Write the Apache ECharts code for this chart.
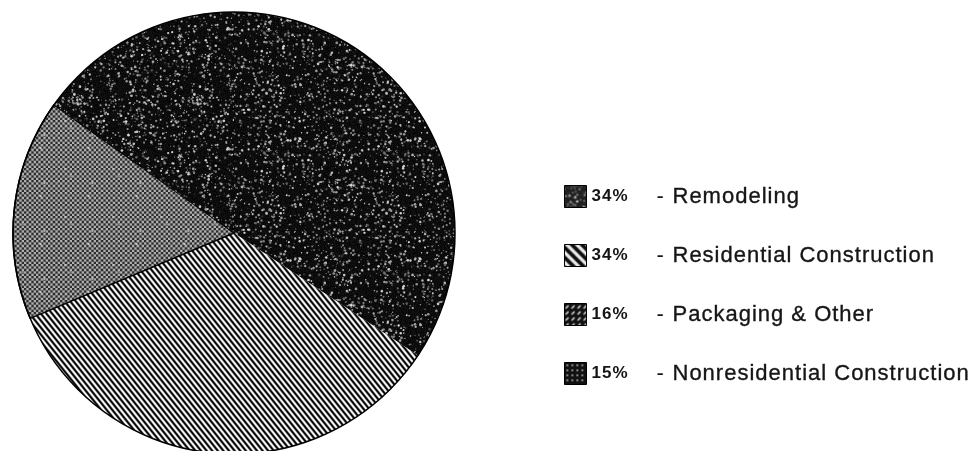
<!DOCTYPE html>
<html>
<head>
<meta charset="utf-8">
<script src="https://cdn.jsdelivr.net/npm/echarts@6/dist/echarts.min.js"></script>
<style>
  html, body { margin: 0; padding: 0; background: #ffffff; }
  #chart { width: 977px; height: 451px; }
</style>
</head>
<body>
<div id="chart"></div>
<script>
// Market segments and their shares (percent)
const categories = ['Remodeling', 'Residential Construction', 'Packaging & Other', 'Nonresidential Construction'];
const shares = [34, 34, 16, 15];
const shareLabels = ['34%', '34%', '16%', '15%'];

// Small deterministic generator for texture grain
function lcg(seed) {
  let s = seed >>> 0;
  return () => (s = (Math.imul(s, 1664525) + 1013904223) >>> 0) / 4294967296;
}

function tile(w, h, draw) {
  const c = document.createElement('canvas');
  c.width = w; c.height = h;
  draw(c.getContext('2d'), w, h);
  return c;
}

// Pixel-function tile with light supersampling
function pixelTile(w, h, fn) {
  return tile(w, h, (g) => {
    const img = g.createImageData(w, h);
    for (let y = 0; y < h; y++) {
      for (let x = 0; x < w; x++) {
        let v = 0;
        for (let sy = 0; sy < 3; sy++) for (let sx = 0; sx < 3; sx++) {
          v += fn(x + (sx + 0.5) / 3, y + (sy + 0.5) / 3);
        }
        v = Math.round(v / 9);
        const i = (y * w + x) * 4;
        img.data[i] = img.data[i + 1] = img.data[i + 2] = v;
        img.data[i + 3] = 255;
      }
    }
    g.putImageData(img, 0, 0);
  });
}

// Near-black fill sprinkled with light grain
function speckleTile(seed, size, count, base) {
  return tile(size, size, (g, w, h) => {
    const r = lcg(seed);
    const img = g.createImageData(w, h);
    for (let i = 0; i < w * h; i++) {
      const v = base + r() * 16;
      img.data[i * 4] = img.data[i * 4 + 1] = img.data[i * 4 + 2] = v;
      img.data[i * 4 + 3] = 255;
    }
    g.putImageData(img, 0, 0);
    for (let k = 0; k < count; k++) {
      const x = r() * w, y = r() * h;
      const rad = 0.45 + r() * 0.9;
      const b = Math.round(80 + r() * 170);
      g.fillStyle = `rgba(${b},${b},${b},0.85)`;
      for (const ox of [-w, 0, w]) for (const oy of [-h, 0, h]) {
        g.beginPath();
        g.arc(x + ox, y + oy, rad, 0, Math.PI * 2);
        g.fill();
      }
    }
  });
}

// Fine diagonal line screen ("\" direction), soft like a halftone
function stripeTile(size, m, n) {
  return pixelTile(size, size, (x, y) => {
    const ph = (m * x + n * y) / size;
    const c = Math.cos(2 * Math.PI * ph);
    return Math.max(0, Math.min(255, 128 + 170 * c));
  });
}

// Fine checker screen for the mid-grey wedge
function checkerTile(seed) {
  const base = pixelTile(48, 48, (x, y) => {
    const cx = Math.floor(x / 2.4), cy = Math.floor(y / 2.4);
    return ((cx + cy) % 2 === 0) ? 45 : 175;
  });
  const g = base.getContext('2d');
  const r = lcg(seed);
  for (let k = 0; k < 8; k++) {
    const b = Math.round(180 + r() * 70);
    g.fillStyle = `rgba(${b},${b},${b},0.7)`;
    g.beginPath();
    g.arc(r() * 48, r() * 48, 0.6 + r() * 0.8, 0, Math.PI * 2);
    g.fill();
  }
  return base;
}

const pat = (img) => ({ image: img, repeat: 'repeat' });

const sliceFills = [
  pat(speckleTile(7, 120, 850, 4)),
  pat(stripeTile(28, 5, -4)),
  pat(checkerTile(11)),
  pat(speckleTile(23, 120, 850, 4))
];

// Coarser swatches for the key
const keyFills = [
  pat(speckleTile(3, 24, 40, 25)),
  pat(pixelTile(20, 20, (x, y) => (((x - y) / 20 * 2 % 1 + 1) % 1) < 0.45 ? 235 : 15)),
  pat(tile(6, 6, (g) => {
    g.fillStyle = '#111'; g.fillRect(0, 0, 6, 6);
    g.strokeStyle = '#eee'; g.lineWidth = 1.2;
    g.beginPath(); g.moveTo(1, 5); g.lineTo(4, 2); g.stroke();
  })),
  pat(tile(5, 5, (g) => {
    g.fillStyle = '#111'; g.fillRect(0, 0, 5, 5);
    g.fillStyle = '#ddd'; g.fillRect(2, 2, 1.5, 1.5);
  }))
];

const total = shares.reduce((a, b) => a + b, 0);
const textColor = '#151515';

const chart = echarts.init(document.getElementById('chart'), null, { renderer: 'canvas' });

chart.setOption({
  animation: false,
  backgroundColor: '#ffffff',
  legend: {
    orient: 'vertical',
    left: 564,
    top: 185,
    padding: 0,
    itemWidth: 22,
    itemHeight: 22,
    itemGap: 36,
    icon: 'rect',
    selectedMode: false,
    data: categories.map((name, i) => ({
      name,
      itemStyle: { color: keyFills[i], borderColor: '#000', borderWidth: 1 }
    })),
    formatter: (name) => {
      const i = categories.indexOf(name);
      return `{p|${shareLabels[i]}}{d|-}{n|${name}}`;
    },
    textStyle: {
      rich: {
        p: { fontFamily: 'Liberation Sans', fontSize: 17, fontWeight: 'bold', color: textColor, width: 65 },
        d: { fontFamily: 'Liberation Sans', fontSize: 22, color: textColor, width: 16 },
        n: {
          fontFamily: 'Liberation Sans', fontSize: 22, color: textColor,
          textBorderColor: textColor, textBorderWidth: 0.35
        }
      }
    }
  },
  series: [
    {
      // textured wedges; the same-texture neighbours meet without a seam
      type: 'pie',
      center: [234, 233],
      radius: 221,
      startAngle: 90,
      clockwise: true,
      label: { show: false },
      labelLine: { show: false },
      emphasis: { disabled: true },
      itemStyle: { borderWidth: 0 },
      data: categories.map((name, i) => ({
        name,
        value: shares[i],
        itemStyle: i === 2
          ? { color: sliceFills[i], borderColor: '#000', borderWidth: 1.5 }
          : { color: sliceFills[i] }
      }))
    },
    {
      // outer rim of the disc
      type: 'pie',
      center: [234, 233],
      radius: 221,
      silent: true,
      legendHoverLink: false,
      label: { show: false },
      labelLine: { show: false },
      emphasis: { disabled: true },
      itemStyle: { color: 'rgba(0,0,0,0)', borderColor: '#000', borderWidth: 1.5 },
      data: [{ name: 'rim', value: total }]
    }
  ]
});

// Looser tracking for the key text, as on the typeset original
(function () {
  const zr = chart.getZr();
  const painter = zr.painter;
  if (!painter || !painter.getLayer) return;
  const layer = painter.getLayer(0);
  if (layer && layer.ctx && 'letterSpacing' in layer.ctx) {
    layer.ctx.letterSpacing = '1px';
    painter.refresh(true);
  }
})();
</script>
</body>
</html>
